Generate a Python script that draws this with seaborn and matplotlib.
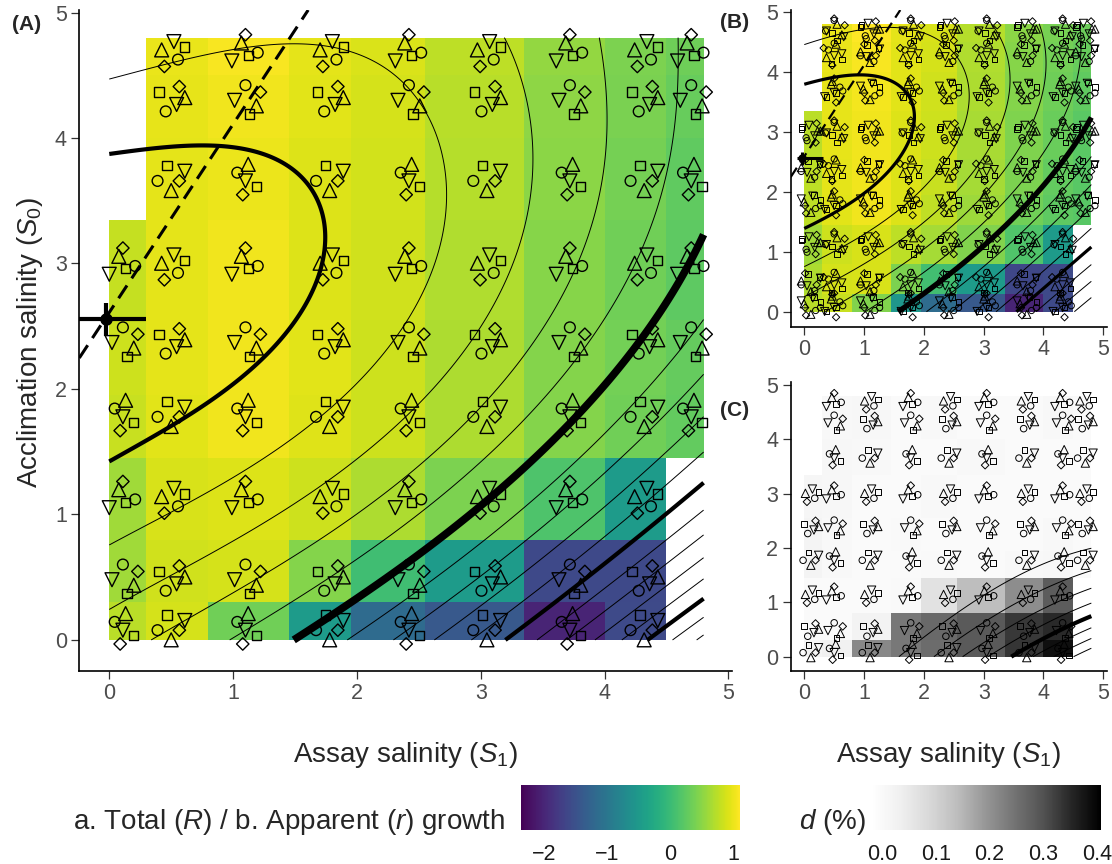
import numpy as np
import pandas as pd
import matplotlib
matplotlib.use("Agg")
import matplotlib.pyplot as plt
import seaborn as sns
from matplotlib.colors import Normalize
from matplotlib.cm import ScalarMappable

sns.set_theme(style="ticks")
plt.rcParams["font.family"] = ["Liberation Sans", "DejaVu Sans"]
plt.rcParams["mathtext.fontset"] = "custom"
plt.rcParams["mathtext.rm"] = "Liberation Sans"
plt.rcParams["mathtext.it"] = "Liberation Sans:italic"
plt.rcParams["mathtext.bf"] = "Liberation Sans:bold"

# ---------------- data ----------------
tile_edges = [0.0, 0.3, 0.8, 1.45, 1.95, 2.55, 3.35, 4.0, 4.5, 4.8]
level_x = [0.11, 0.5, 1.1, 1.78, 2.42, 3.05, 3.72, 4.32, 4.7]
level_y = [0.1, 0.48, 1.12, 1.8, 2.37, 2.98, 3.68, 4.3, 4.68]
nan = np.nan

# rows = acclimation salinity bins (bottom -> top), cols = assay salinity bins
growth_total = [
    [0.75, 0.88, 0.36, -0.47, -1.17, -1.41, -2.02, -1.59, nan],
    [0.62, 0.86, 0.88, 0.47, 0.04, -0.47, -1.60, -1.60, nan],
    [0.62, 0.90, 0.92, 0.85, 0.68, 0.43, 0.14, -0.47, nan],
    [0.82, 0.95, 1.03, 0.94, 0.84, 0.68, 0.46, 0.36, 0.28],
    [0.84, 0.97, 1.04, 0.95, 0.85, 0.68, 0.47, 0.37, 0.29],
    [0.80, 0.97, 1.03, 0.93, 0.86, 0.70, 0.48, 0.36, 0.24],
    [nan, 0.97, 1.01, 0.93, 0.87, 0.72, 0.50, 0.38, 0.26],
    [nan, 0.98, 1.03, 0.95, 0.88, 0.74, 0.52, 0.41, 0.30],
    [nan, 1.00, 1.07, 0.97, 0.91, 0.76, 0.55, 0.42, 0.34],
]
growth_apparent = [
    [0.73, 0.82, 0.45, -0.54, -1.15, -1.41, -2.02, -1.59, nan],
    [0.68, 0.88, 0.90, 0.43, 0.06, -0.47, -1.63, -1.59, nan],
    [0.62, 0.85, 0.90, 0.77, 0.64, 0.45, 0.15, -0.47, nan],
    [0.77, 0.96, 1.03, 0.92, 0.78, 0.60, 0.36, 0.25, 0.20],
    [0.77, 0.97, 1.04, 0.92, 0.82, 0.64, 0.42, 0.28, 0.21],
    [0.75, 0.98, 1.04, 0.93, 0.84, 0.66, 0.44, 0.31, 0.22],
    [nan, 0.98, 1.05, 0.95, 0.86, 0.68, 0.46, 0.34, 0.26],
    [nan, 1.00, 1.07, 0.96, 0.88, 0.70, 0.48, 0.37, 0.30],
    [nan, 1.00, 1.10, 0.97, 0.90, 0.72, 0.50, 0.40, 0.33],
]
d_percent = [
    [0.019, 0.031, 0.215, 0.240, 0.258, 0.288, 0.335, 0.385, nan],
    [0.000, 0.000, 0.023, 0.241, 0.262, 0.288, 0.331, 0.348, nan],
    [0.000, 0.000, 0.000, 0.002, 0.066, 0.140, 0.207, 0.284, nan],
    [0.020, 0.005, 0.000, 0.000, 0.002, 0.000, 0.005, 0.010, 0.000],
    [0.020, 0.005, 0.000, 0.002, 0.000, 0.000, 0.000, 0.005, 0.000],
    [0.015, 0.010, 0.000, 0.000, 0.005, 0.000, 0.000, 0.000, 0.000],
    [nan, 0.010, 0.005, 0.000, 0.000, 0.005, 0.000, 0.000, 0.000],
    [nan, 0.005, 0.010, 0.000, 0.005, 0.000, 0.000, 0.005, 0.000],
    [nan, 0.005, 0.010, 0.000, 0.005, 0.000, 0.000, 0.005, 0.000],
]

# optimum (point with error bars) and ridge line (intercept, slope)
optimum_A = (-0.03, 2.555)
optimum_A_xerr = (0.40, 0.33)
optimum_A_yerr = 0.13
optimum_B = (-0.03, 2.56)
optimum_B_xerr = (0.10, 0.35)
optimum_B_yerr = 0.11
ridge_A = (2.61, 1.50)
ridge_B = (2.59, 1.52)

# contour readings: (level, points along that contour / edge values)
contours_A = [
    (1.145, [(0.0, 2.56)]),
    (1.0, [(0.0, 1.39), (0.44, 1.61), (0.8, 1.78), (1.06, 1.95), (1.46, 2.35), (1.73, 2.88),
           (1.81, 3.26), (1.68, 3.68), (1.3, 3.88), (0.87, 3.95), (0.4, 3.88), (0.02, 3.77)]),
    (0.8, [(0.0, 0.75), (0.79, 1.16), (1.46, 1.61), (2.19, 2.32), (2.70, 3.11), (2.78, 3.63),
           (2.55, 4.2), (2.11, 4.56), (1.5, 4.7), (1.0, 4.68), (0.5, 4.58), (0.02, 4.41)]),
    (0.78, [(1.1, 4.8)]),
    (0.7, [(0.0, 4.8)]),
    (0.6, [(0.0, 0.28), (0.79, 0.64), (1.46, 1.06), (2.19, 1.66), (3.34, 3.11), (3.51, 3.88), (3.12, 4.79)]),
    (0.52, [(0.0, 0.0)]),
    (0.4, [(0.25, 0.0), (0.92, 0.37), (1.73, 0.88), (2.19, 1.2), (3.80, 3.11), (4.10, 4.09), (3.95, 4.79)]),
    (0.2, [(2.19, 0.85), (4.18, 3.11), (4.62, 4.22), (4.58, 4.79)]),
    (0.0, [(1.49, 0.0), (2.19, 0.48), (2.99, 1.09), (3.53, 1.51), (4.07, 2.13), (4.73, 3.11), (4.80, 3.24)]),
    (-0.2, [(1.93, 0.0), (2.46, 0.29), (3.26, 0.98), (4.21, 1.83), (4.79, 2.59)]),
    (-0.4, [(2.29, 0.0), (4.79, 2.14)]),
    (-0.6, [(2.64, 0.0), (4.79, 1.77)]),
    (-0.8, [(2.94, 0.0), (4.79, 1.47)]),
    (-1.0, [(3.22, 0.0), (3.94, 0.58), (4.79, 1.22)]),
    (-1.2, [(3.48, 0.0), (4.79, 1.01)]),
    (-1.4, [(3.69, 0.0), (4.79, 0.81)]),
    (-1.6, [(3.91, 0.0), (4.79, 0.64)]),
    (-1.8, [(4.14, 0.0), (4.79, 0.48)]),
    (-2.0, [(4.34, 0.0), (4.79, 0.32)]),
    (-2.2, [(4.53, 0.0), (4.79, 0.17)]),
    (-2.4, [(4.73, 0.0), (4.79, 0.04)]),
]
contours_B = [
    (1.14, [(0.0, 2.56)]),
    (1.0, [(0.0, 1.36), (0.44, 1.6), (0.93, 1.86), (1.49, 2.31), (1.85, 3.25), (1.71, 3.7),
           (0.93, 3.99), (0.01, 3.78)]),
    (0.8, [(0.0, 0.75), (0.79, 1.16), (1.46, 1.61), (2.19, 2.32), (2.70, 3.11), (2.78, 3.63),
           (2.55, 4.2), (2.11, 4.56), (1.5, 4.7), (1.0, 4.68), (0.5, 4.58), (0.02, 4.41)]),
    (0.78, [(1.1, 4.8)]),
    (0.7, [(0.0, 4.8)]),
    (0.6, [(0.0, 0.28), (0.79, 0.64), (1.46, 1.06), (2.19, 1.66), (3.34, 3.11), (3.51, 3.88), (3.12, 4.79)]),
    (0.52, [(0.0, 0.0)]),
    (0.4, [(0.25, 0.0), (0.92, 0.37), (1.73, 0.88), (2.19, 1.2), (3.80, 3.11), (4.10, 4.09), (3.95, 4.79)]),
    (0.2, [(2.19, 0.8), (4.18, 3.11), (4.62, 4.22), (4.58, 4.79)]),
    (0.0, [(1.6, 0.0), (2.6, 0.8), (3.72, 1.86), (4.28, 2.53), (4.8, 3.25)]),
    (-0.2, [(2.05, 0.0), (4.8, 2.6)]),
    (-0.4, [(2.45, 0.0), (4.8, 2.1)]),
    (-0.6, [(2.85, 0.0), (4.8, 1.7)]),
    (-0.8, [(3.2, 0.0), (4.8, 1.35)]),
    (-1.0, [(3.58, 0.0), (4.16, 0.5), (4.8, 1.06)]),
    (-1.2, [(3.9, 0.0), (4.8, 0.78)]),
    (-1.4, [(4.2, 0.0), (4.8, 0.52)]),
    (-1.6, [(4.5, 0.0), (4.8, 0.28)]),
]
contours_C = [
    (0.05, [(1.53, 0.0), (2.0, 0.55), (2.55, 1.0), (3.67, 1.47), (4.78, 1.78)]),
    (0.10, [(2.45, 0.0), (4.81, 1.42)]),
    (0.15, [(2.75, 0.0), (4.81, 1.19)]),
    (0.20, [(3.2, 0.0), (4.81, 0.98)]),
    (0.25, [(3.39, 0.0), (4.81, 0.8)]),
    (0.30, [(3.72, 0.0), (4.81, 0.6)]),
    (0.35, [(4.11, 0.0), (4.81, 0.41)]),
    (0.40, [(4.56, 0.0), (4.81, 0.15)]),
    (0.0, [(0.0, 0.0), (1.0, 0.0), (0.0, 2.4), (0.0, 4.8), (1.2, 1.2), (2.4, 2.6),
           (2.4, 4.8), (3.6, 3.6), (4.8, 4.8), (4.8, 3.0)]),
]

levels_A = [round(v * 0.2, 1) for v in range(-13, 6)]
levels_B = [round(v * 0.2, 1) for v in range(-9, 6)]
levels_C = [round(v * 0.05, 2) for v in range(1, 9)]

# replicate marker arrangements (offsets for o, ^, v, s, D)
shapes = ["o", "^", "v", "s", "D"]
offset_dx = [
    [-0.06, 0.02, 0.00, 0.08, -0.02],
    [0.05, -0.07, 0.02, 0.10, -0.05],
    [0.00, 0.08, -0.08, 0.03, 0.11],
    [-0.10, 0.00, 0.10, -0.03, 0.06],
    [0.09, -0.03, -0.10, 0.02, 0.00],
    [-0.04, 0.10, 0.04, -0.09, 0.06],
]
offset_dy = [
    [0.04, 0.10, -0.02, -0.06, -0.12],
    [-0.05, 0.02, 0.08, 0.04, -0.10],
    [0.11, -0.04, 0.00, -0.10, 0.06],
    [-0.02, -0.09, 0.05, 0.09, -0.02],
    [0.00, 0.07, -0.06, -0.02, 0.13],
    [-0.08, 0.02, -0.03, 0.06, 0.10],
]

# ---------------- helpers ----------------
def poly_terms(x, y, deg):
    return np.column_stack([x ** i * y ** j for i in range(deg + 1) for j in range(deg + 1 - i)])


def fitted_surface(readings, deg):
    xs, ys, zs = [], [], []
    for lev, pts in readings:
        for px, py in pts:
            xs.append(px); ys.append(py); zs.append(lev)
    xs, ys, zs = map(np.asarray, (xs, ys, zs))
    coef, *_ = np.linalg.lstsq(poly_terms(xs, ys, deg), zs, rcond=None)
    g = np.linspace(0, 4.8, 300)
    X, Y = np.meshgrid(g, g)
    Z = (poly_terms(X.ravel(), Y.ravel(), deg) @ coef).reshape(X.shape)
    return X, Y, Z


def marker_frame(grid, scale, nsets, shift):
    g = np.asarray(grid, float)
    rows = []
    for r in range(9):
        for c in range(9):
            if np.isnan(g[r, c]):
                continue
            for k in range(nsets):
                p = (2 * r + 3 * c + shift + 2 * k) % 6
                sgn = 1 if k == 0 else -1
                for m, shp in enumerate(shapes):
                    rows.append({"x": level_x[c] + sgn * scale * offset_dx[p][m],
                                 "y": level_y[r] + scale * offset_dy[p][m],
                                 "shape": shp})
    return pd.DataFrame(rows)


def style_axes(ax, xlim, ylim):
    ax.set_xlim(*xlim)
    ax.set_ylim(*ylim)
    ax.set_xticks(range(6))
    ax.set_yticks(range(6))
    ax.set_xlabel("")
    ax.set_ylabel("")
    for s in ["top", "right"]:
        ax.spines[s].set_visible(False)
    for s in ["left", "bottom"]:
        ax.spines[s].set_linewidth(1.2)
        ax.spines[s].set_color("black")
    ax.tick_params(direction="out", length=5.5, width=0.9, color="#333333",
                   labelsize=15.5, labelcolor="#4d4d4d", pad=3.5)
    ax.grid(False)


def draw_panel(ax, grid, cmap, norm, readings, deg, levels, thick, mid, lw_thick, lw_mid,
               msizes, medge, mscale, nsets, shift):
    ax.pcolormesh(tile_edges, tile_edges, np.ma.masked_invalid(np.asarray(grid, float)),
                  cmap=cmap, norm=norm, shading="flat", zorder=1, linewidth=0,
                  antialiased=False)
    X, Y, Z = fitted_surface(readings, deg)
    lws = []
    for lv in levels:
        if abs(lv - thick) < 1e-9:
            lws.append(lw_thick)
        elif any(abs(lv - m) < 1e-9 for m in mid):
            lws.append(lw_mid)
        else:
            lws.append(0.7)
    ax.contour(X, Y, Z, levels=levels, colors="black", linewidths=lws,
               linestyles="solid", negative_linestyles="solid", zorder=2)
    df = marker_frame(grid, mscale, nsets, shift)
    sns.scatterplot(data=df, x="x", y="y", style="shape", size="shape",
                    markers={s: s for s in shapes}, sizes=msizes,
                    color="black", facecolor="none", edgecolor="black",
                    linewidth=medge, legend=False, ax=ax, zorder=3)


# ---------------- figure ----------------
W, H = 1112, 864
fig = plt.figure(figsize=(W / 100, H / 100), dpi=100)
fig.patch.set_facecolor("white")

norm_growth = Normalize(-2.37, 1.11)
norm_d = Normalize(-0.02, 0.407)

axA = fig.add_axes([79.3 / W, 1 - 670.7 / H, (731.7 - 79.3) / W, 660.7 / H])
axB = fig.add_axes([790.7 / W, 1 - 326.7 / H, 316 / W, 316.7 / H])
axC = fig.add_axes([790.7 / W, 1 - 670.7 / H, 316 / W, 289 / H])

draw_panel(axA, growth_total, "viridis", norm_growth, contours_A, 4, levels_A,
           0.0, [1.0, -1.0, -2.0], 5.5, 3.0,
           {"o": 60, "^": 100, "v": 100, "s": 45, "D": 40}, 1.0, 1.1, 1, 0)
draw_panel(axB, growth_apparent, "viridis", norm_growth, contours_B, 4, levels_B,
           0.0, [1.0, -1.0], 3.8, 2.3,
           {"o": 20, "^": 34, "v": 34, "s": 16, "D": 14}, 0.7, 1.6, 2, 1)
draw_panel(axC, d_percent, "Greys", norm_d, contours_C, 3, levels_C,
           0.25, [], 3.0, 3.0,
           {"o": 22, "^": 36, "v": 36, "s": 17, "D": 15}, 0.7, 1.3, 1, 3)

# ridge lines and optima
axA.axline((0, ridge_A[0]), slope=ridge_A[1], color="black", lw=2.2,
           linestyle=(0, (5, 2.8)), zorder=4)
axA.errorbar([optimum_A[0]], [optimum_A[1]], xerr=[[optimum_A_xerr[0]], [optimum_A_xerr[1]]],
             yerr=[[optimum_A_yerr], [optimum_A_yerr]], fmt="o", color="black",
             ms=8, elinewidth=3.0, capsize=0, zorder=5)
axB.axline((0, ridge_B[0]), slope=ridge_B[1], color="black", lw=1.6,
           linestyle=(0, (5, 2.8)), zorder=4)
axB.errorbar([optimum_B[0]], [optimum_B[1]], xerr=[[optimum_B_xerr[0]], [optimum_B_xerr[1]]],
             yerr=[[optimum_B_yerr], [optimum_B_yerr]], fmt="o", color="black",
             ms=5, elinewidth=2.2, capsize=0, zorder=5)

style_axes(axA, (-0.242, 5.027), (-0.245, 5.02))
style_axes(axB, (-0.227, 5.057), (-0.25, 5.03))
style_axes(axC, (-0.227, 5.057), (-0.258, 5.06))

# axis titles
fig.text(30 / W, 1 - 342 / H, r"Acclimation salinity ($S_0$)", rotation=90,
         ha="center", va="center", fontsize=20)
fig.text(405.5 / W, 1 - 755 / H, r"Assay salinity ($S_1$)", ha="center", va="center", fontsize=20)
fig.text(948.7 / W, 1 - 755 / H, r"Assay salinity ($S_1$)", ha="center", va="center", fontsize=20)

# panel tags
fig.text(12 / W, 1 - 24 / H, "(A)", fontweight="bold", fontsize=15, ha="left", va="center")
fig.text(720 / W, 1 - 23 / H, "(B)", fontweight="bold", fontsize=15, ha="left", va="center")
fig.text(720 / W, 1 - 411 / H, "(C)", fontweight="bold", fontsize=15, ha="left", va="center")

# colour bars
cax1 = fig.add_axes([521 / W, 1 - 830 / H, 219 / W, 45 / H])
cb1 = fig.colorbar(ScalarMappable(norm=norm_growth, cmap="viridis"), cax=cax1,
                   orientation="horizontal", ticks=[-2, -1, 0, 1])
cax2 = fig.add_axes([871 / W, 1 - 830 / H, 230 / W, 45 / H])
cb2 = fig.colorbar(ScalarMappable(norm=norm_d, cmap="Greys"), cax=cax2,
                   orientation="horizontal", ticks=[0.0, 0.1, 0.2, 0.3, 0.4])
cb2.ax.set_xticklabels(["0.0", "0.1", "0.2", "0.3", "0.4"])
for cb in (cb1, cb2):
    cb.outline.set_visible(False)
    cb.ax.tick_params(axis="x", direction="in", length=8, width=1, color="white",
                      top=True, bottom=True, labelsize=15.5, labelcolor="#1a1a1a", pad=10)

fig.text(505 / W, 1 - 822 / H, r"a. Total ($R$) / b. Apparent ($r$) growth",
         ha="right", va="center", fontsize=20)
fig.text(866 / W, 1 - 822 / H, r"$d$ (%)", ha="right", va="center", fontsize=20)

fig.savefig("out.png", dpi=100, facecolor="white")
